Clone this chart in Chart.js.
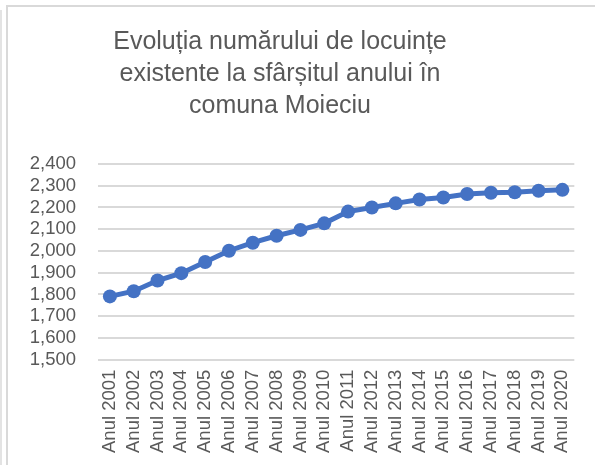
<!DOCTYPE html>
<html>
<head>
<meta charset="utf-8">
<script src="https://cdn.jsdelivr.net/npm/chart.js@4.4.1/dist/chart.umd.min.js"></script>
<style>
  html, body { margin: 0; padding: 0; background: #fff; }
  #wrap { position: relative; width: 595px; height: 465px; overflow: hidden; }
  #frame { position: absolute; left: 6px; top: 5px; width: 600px; height: 470px;
           border-left: 2px solid #d9d9d9; border-top: 2px solid #d9d9d9; }
  #edge { position: absolute; left: 0px; top: 10px; width: 2px; height: 460px; background: #e3e3e3; }
  canvas { position: absolute; left: 0; top: 0; }
</style>
</head>
<body>
<div id="wrap">
  <div id="edge"></div>
  <div id="frame"></div>
  <canvas id="c" width="595" height="465"></canvas>
</div>
<script>
const titleLines = ["Evoluția numărului de locuințe", "existente la sfârșitul anului în", "comuna Moieciu"];
const categories = ["Anul 2001","Anul 2002","Anul 2003","Anul 2004","Anul 2005","Anul 2006","Anul 2007","Anul 2008","Anul 2009","Anul 2010",
                    "Anul 2011","Anul 2012","Anul 2013","Anul 2014","Anul 2015","Anul 2016","Anul 2017","Anul 2018","Anul 2019","Anul 2020"];
const locuinte = [1791, 1815, 1864, 1898, 1949, 2001, 2038, 2070, 2097, 2127,
                  2181, 2200, 2219, 2237, 2246, 2262, 2268, 2270, 2277, 2281];
const yMin = 1500, yMax = 2400, yStep = 100;

const shiftTitle = {
  id: 'shiftTitle',
  afterLayout(chart) {
    const t = chart.titleBlock;
    if (t) { t.left = 0; t.right = 560; }
  }
};

Chart.defaults.font.family = "'Liberation Sans', Arial, sans-serif";
Chart.defaults.color = '#595959';

new Chart(document.getElementById('c'), {
  type: 'line',
  data: {
    labels: categories,
    datasets: [{
      data: locuinte,
      borderColor: '#4472C4',
      backgroundColor: '#4472C4',
      borderWidth: 5,
      pointRadius: 7,
      pointHoverRadius: 7,
      pointBorderWidth: 0,
      pointBackgroundColor: '#4472C4',
      tension: 0,
      fill: false
    }]
  },
  options: {
    responsive: false,
    animation: false,
    devicePixelRatio: 1,
    layout: { padding: { left: 0, right: 16, top: 0, bottom: 2 } },
    plugins: {
      legend: { display: false },
      tooltip: { enabled: false },
      title: {
        display: true,
        text: titleLines,
        color: '#595959',
        font: { size: 25, weight: 'normal', lineHeight: 1.28 },
        padding: { top: 26, bottom: 42 }
      }
    },
    scales: {
      x: {
        offset: true,
        grid: { display: false, drawTicks: false },
        border: { display: false },
        ticks: {
          minRotation: 90, maxRotation: 90, autoSkip: false,
          padding: 10,
          color: '#595959',
          font: { size: 18.5 }
        }
      },
      y: {
        min: yMin, max: yMax,
        afterFit(scale) { scale.width = 98; },
        grid: { color: '#d9d9d9', lineWidth: 2, drawTicks: false },
        border: { display: false },
        ticks: {
          stepSize: yStep,
          autoSkip: false,
          padding: 22,
          color: '#595959',
          font: { size: 18.5 },
          callback: v => v.toLocaleString('en-US')
        }
      }
    }
  },
  plugins: [shiftTitle]
});
</script>
</body>
</html>
